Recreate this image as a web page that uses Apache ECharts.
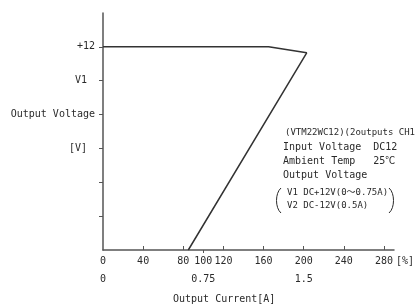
<!DOCTYPE html>
<html>
<head>
<meta charset="utf-8">
<script src="https://cdn.jsdelivr.net/npm/echarts@6/dist/echarts.min.js"></script>
<style>html,body{margin:0;padding:0;background:#fff}#c{width:416px;height:308px}</style>
</head>
<body>
<div id="c"></div>
<script>
// data
var curveX = [0, 165, 203, 85];          // output current [%]
var curveY = [12, 12, 11.65, 0];          // output voltage [V]
var pctTicks = [40, 80, 120, 160, 200, 240, 280];
var pctLabels = [0, 40, 80, 100, 120, 160, 200, 240, 280];
var ampValues = [0, 100, 200];
var ampLabels = ['0', '0.75', '1.5'];
var yValues = [12, 10, 8, 6];
var yLabels = ['+12', 'V1', 'Output Voltage', '[V]'];
var yTicks = [2, 4, 6, 8, 10, 12];
var noteLines = ['(VTM22WC12)(2outputs CH1', 'Input Voltage  DC12', 'Ambient Temp   25\u2103', 'Output Voltage'];
var subLines = ['V1 DC+12V(0\uFF5E0.75A)', 'V2 DC-12V(0.5A)'];

var FONT = '"DejaVu Sans Mono", "Liberation Mono", "Noto Sans CJK JP", monospace';
var TXT = '#2a2a2a';
var AX = '#555';

var chart = echarts.init(document.getElementById('c'));
var pts = curveX.map(function (x, i) { return [x, curveY[i]]; });

var graphics = [];
noteLines.forEach(function (t, i) {
  graphics.push({type: 'text', left: i === 0 ? 285 : 283, top: 128 + i * 14,
    style: {text: t, font: (i === 0 ? '9px ' : '10px ') + FONT, fill: TXT}});
});
subLines.forEach(function (t, i) {
  graphics.push({type: 'text', left: 287, top: 188 + i * 13,
    style: {text: t, font: '9px ' + FONT, fill: TXT}});
});
graphics.push({type: 'bezierCurve', shape: {x1: 281, y1: 188, x2: 281, y2: 213, cpx1: 275, cpy1: 193, cpx2: 275, cpy2: 208},
  style: {stroke: TXT, lineWidth: 1, fill: null}});
graphics.push({type: 'bezierCurve', shape: {x1: 389, y1: 188, x2: 389, y2: 213, cpx1: 395, cpy1: 193, cpx2: 395, cpy2: 208},
  style: {stroke: TXT, lineWidth: 1, fill: null}});
graphics.push({type: 'text', left: 396, top: 256, style: {text: '[%]', font: '10px ' + FONT, fill: TXT}});
graphics.push({type: 'text', left: 173, top: 294, style: {text: 'Output Current[A]', font: '10px ' + FONT, fill: TXT}});

chart.setOption({
  animation: false,
  grid: {left: 103, right: 22, top: 13, bottom: 58, containLabel: false},
  xAxis: [{
    type: 'value', min: 0, max: 290, interval: 40, position: 'bottom',
    splitLine: {show: false},
    axisLine: {show: true, lineStyle: {color: AX, width: 1.5}},
    axisTick: {show: true, inside: true, length: 4, customValues: pctTicks, lineStyle: {color: AX}},
    axisLabel: {show: true, margin: 6, customValues: pctLabels, color: TXT, fontFamily: FONT, fontSize: 10}
  }, {
    type: 'value', min: 0, max: 290, interval: 40, position: 'bottom',
    splitLine: {show: false},
    axisLine: {show: false},
    axisTick: {show: true, inside: false, length: 3, customValues: [100], lineStyle: {color: AX}},
    axisLabel: {show: true, margin: 24, customValues: ampValues, color: TXT, fontFamily: FONT, fontSize: 10,
      formatter: function (v) { var i = ampValues.indexOf(v); return i >= 0 ? ampLabels[i] : ''; }}
  }],
  yAxis: {
    type: 'value', min: 0, max: 14, interval: 2,
    splitLine: {show: false},
    axisLine: {show: true, lineStyle: {color: AX, width: 1.5}},
    axisTick: {show: true, inside: false, length: 4, customValues: yTicks, lineStyle: {color: AX}},
    axisLabel: {show: true, margin: 8, customValues: yValues, color: TXT, fontFamily: FONT, fontSize: 10,
      formatter: function (v) {
        var i = yValues.indexOf(v);
        if (i < 0) return '';
        if (yLabels[i] === 'V1' || yLabels[i] === '[V]') return '{p|' + yLabels[i] + '}';
        return yLabels[i];
      },
      rich: {p: {padding: [0, 8, 0, 0], color: TXT, fontFamily: FONT, fontSize: 10}}
    }
  },
  series: [{
    type: 'line', data: pts, symbol: 'none', xAxisIndex: 0,
    lineStyle: {color: '#333', width: 1.5}
  }],
  graphic: graphics
});
</script>
</body>
</html>
